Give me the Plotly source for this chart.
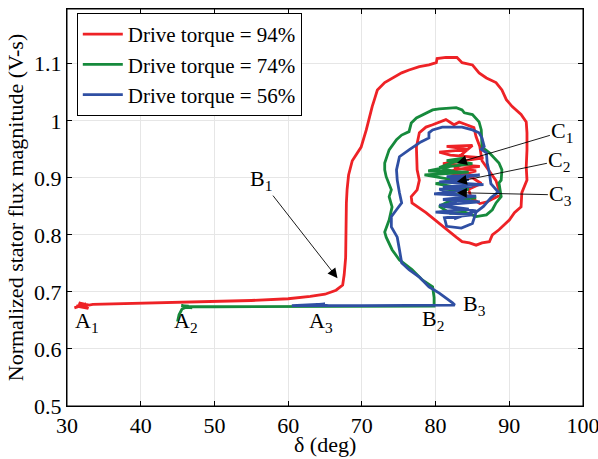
import plotly.graph_objects as go

# ---------------- data ----------------
series_names = ["Drive torque = 94%", "Drive torque = 74%", "Drive torque = 56%"]

red_x = [31.0, 32.6, 31.3, 32.9, 31.6, 33.0, 33.5, 40.0, 50.0, 55.0, 60.0, 63.0, 65.0, 66.5, 67.4,
         67.6, 67.8, 67.8, 67.9, 67.9, 68.0, 68.2, 68.7, 69.9, 70.6, 71.0, 71.4, 71.7, 72.1, 73.1,
         74.1, 75.4, 76.4, 77.8, 79.1, 80.1, 80.2, 81.4, 82.9, 83.2, 83.6, 85.0, 85.9, 86.9, 88.2,
         89.0, 89.6, 90.4, 91.6, 92.3, 92.4, 92.4, 92.3, 92.4, 91.7, 91.6, 90.7, 90.0, 88.6, 87.7,
         87.3, 86.3, 85.5, 84.6, 83.6, 82.8, 80.5, 78.7, 76.8, 76.7, 77.5, 77.8, 77.5, 77.5, 77.4,
         77.8, 78.7, 79.6, 80.5, 81.4, 82.5, 83.2, 84.2, 85.2, 85.5, 86.0, 86.3, 88.2, 88.8, 87.0,
         86.0, 84.8, 84.5, 86.2, 85.0, 81.5, 83.0, 86.0, 81.0, 84.0, 86.5, 82.0, 80.5, 84.5, 81.5,
         85.0, 83.0, 84.0, 82.5, 85.5, 83.5]
red_y = [0.672, 0.679, 0.675, 0.671, 0.681, 0.677, 0.678, 0.680, 0.683, 0.685, 0.688, 0.692, 0.696,
         0.703, 0.712, 0.730, 0.760, 0.796, 0.830, 0.856, 0.880, 0.905, 0.930, 0.954, 0.984, 1.007,
         1.025, 1.037, 1.054, 1.067, 1.075, 1.084, 1.089, 1.095, 1.098, 1.102, 1.109, 1.111, 1.111,
         1.107, 1.102, 1.098, 1.084, 1.075, 1.067, 1.054, 1.037, 1.025, 1.011, 0.998, 0.979, 0.949,
         0.919, 0.896, 0.874, 0.849, 0.839, 0.826, 0.809, 0.800, 0.788, 0.786, 0.782, 0.786, 0.788,
         0.796, 0.821, 0.839, 0.856, 0.867, 0.879, 0.896, 0.914, 0.926, 0.954, 0.979, 0.989, 0.993,
         0.998, 1.002, 0.993, 0.998, 0.993, 0.988, 0.972, 0.955, 0.930, 0.895, 0.870, 0.858, 0.855,
         0.865, 0.880, 0.890, 0.900, 0.910, 0.915, 0.920, 0.925, 0.930, 0.935, 0.940, 0.945, 0.950,
         0.955, 0.957, 0.935, 0.925, 0.918, 0.912, 0.905]

green_x = [45.0, 45.2, 45.6, 46.5, 45.5, 47.0, 46.0, 50.0, 60.0, 70.0, 79.8, 79.8, 79.6, 78.2, 76.8,
           75.1, 74.1, 73.3, 73.1, 73.7, 74.1, 73.7, 74.0, 73.3, 73.1, 73.1, 73.7, 74.7, 75.4, 76.4,
           76.7, 77.4, 78.7, 79.6, 80.5, 82.8, 83.6, 83.9, 85.0, 85.9, 86.2, 86.2, 86.3, 87.3, 88.6,
           89.0, 88.9, 88.6, 88.9, 88.2, 87.7, 86.9, 85.5, 84.0, 82.0, 80.5, 82.0, 85.5, 81.0, 84.5,
           80.0, 83.0, 78.5, 84.5, 79.0, 82.0, 85.0, 81.5, 84.0, 80.5, 83.5]
green_y = [0.648, 0.660, 0.670, 0.675, 0.676, 0.672, 0.674, 0.674, 0.674, 0.674, 0.675, 0.690, 0.709,
           0.721, 0.739, 0.756, 0.774, 0.796, 0.805, 0.826, 0.849, 0.867, 0.879, 0.902, 0.914, 0.926,
           0.949, 0.967, 0.975, 0.981, 0.996, 1.005, 1.014, 1.019, 1.021, 1.023, 1.019, 1.014, 1.011,
           0.998, 0.984, 0.967, 0.954, 0.944, 0.926, 0.914, 0.896, 0.891, 0.867, 0.856, 0.844, 0.835,
           0.832, 0.840, 0.838, 0.850, 0.860, 0.865, 0.875, 0.880, 0.890, 0.895, 0.905, 0.910, 0.912,
           0.920, 0.925, 0.930, 0.935, 0.918, 0.908]

blue_x = [63.0, 65.0, 63.5, 65.5, 64.0, 60.5, 70.0, 80.0, 82.6, 82.3, 80.5, 79.1, 77.8, 76.4, 75.4,
          75.1, 74.8, 74.0, 74.0, 74.7, 75.4, 75.1, 74.8, 74.7, 74.8, 75.1, 76.4, 77.5, 78.0, 79.1,
          79.1, 79.6, 80.9, 82.8, 83.6, 85.0, 85.9, 86.3, 86.6, 86.2, 86.9, 87.0, 87.3, 87.5, 88.5,
          87.5, 86.5, 85.5, 85.0, 83.5, 81.5, 81.2, 85.0, 80.0, 84.5, 80.5, 86.0, 81.0, 85.5, 79.8,
          84.0, 81.0, 86.5, 80.5, 84.5, 81.5, 86.0, 82.0, 85.0, 80.5, 84.0, 81.0, 85.5, 82.5]
blue_y = [0.677, 0.679, 0.676, 0.676, 0.678, 0.676, 0.676, 0.676, 0.677, 0.681, 0.698, 0.709, 0.726,
          0.739, 0.751, 0.774, 0.796, 0.814, 0.832, 0.844, 0.856, 0.874, 0.896, 0.914, 0.919, 0.937,
          0.949, 0.958, 0.963, 0.970, 0.979, 0.984, 0.989, 0.989, 0.989, 0.984, 0.979, 0.970, 0.955,
          0.950, 0.944, 0.926, 0.909, 0.890, 0.875, 0.865, 0.850, 0.840, 0.820, 0.812, 0.815, 0.830,
          0.835, 0.840, 0.845, 0.852, 0.858, 0.862, 0.868, 0.872, 0.878, 0.884, 0.888, 0.893, 0.897,
          0.902, 0.905, 0.898, 0.885, 0.880, 0.866, 0.850, 0.842, 0.828]

# labels: (text, x, y)
point_labels = [("A<sub>1</sub>", 32.7, 0.647), ("A<sub>2</sub>", 46.2, 0.647),
                ("A<sub>3</sub>", 64.5, 0.647), ("B<sub>2</sub>", 79.7, 0.651),
                ("B<sub>3</sub>", 85.3, 0.677)]
# arrow labels: (text, text_x, text_y, head_x, head_y)
arrow_labels = [("B<sub>1</sub>", 56.3, 0.896, 66.7, 0.724),
                ("C<sub>1</sub>", 97.2, 0.981, 82.9, 0.926),
                ("C<sub>2</sub>", 96.8, 0.930, 82.9, 0.893),
                ("C<sub>3</sub>", 97.0, 0.870, 82.9, 0.874)]

x_ticks = [30, 40, 50, 60, 70, 80, 90, 100]
y_ticks = [0.5, 0.6, 0.7, 0.8, 0.9, 1.0, 1.1]
y_tick_text = ["0.5", "0.6", "0.7", "0.8", "0.9", "1", "1.1"]
x_title = "δ (deg)"
y_title = "Normalized stator flux magnitude (V-s)"

colors = ["#EE2226", "#168A3C", "#2F4FA3"]
FONT = "Liberation Serif"
FS = 22

fig = go.Figure()
for name, xs, ys, c in zip(series_names, [red_x, green_x, blue_x], [red_y, green_y, blue_y], colors):
    fig.add_trace(go.Scatter(x=xs, y=ys, mode="lines", name=name,
                             line=dict(color=c, width=2.8)))

for t, x, y in point_labels:
    fig.add_annotation(x=x, y=y, text=t, showarrow=False, xref="x", yref="y",
                       font=dict(family=FONT, size=FS, color="black"))
for t, tx, ty, hx, hy in arrow_labels:
    fig.add_annotation(x=hx, y=hy, ax=tx, ay=ty, axref="x", ayref="y", xref="x", yref="y",
                       text=t, showarrow=True, arrowhead=2, arrowsize=2.2, arrowwidth=0.9,
                       arrowcolor="black", font=dict(family=FONT, size=FS, color="black"))

# x-axis title placed just under the tick labels
fig.add_annotation(x=0.5, y=-0.097, xref="paper", yref="paper", text=x_title, showarrow=False,
                   xanchor="center", yanchor="middle",
                   font=dict(family=FONT, size=FS, color="black"))

# axes box
fig.add_shape(type="rect", xref="paper", yref="paper", x0=0, x1=1, y0=0, y1=1,
              line=dict(color="black", width=1), fillcolor="rgba(0,0,0,0)", layer="above")

axis_common = dict(showline=True, linecolor="black", linewidth=1, mirror="ticks",
                   ticks="inside", ticklen=5, tickcolor="black", automargin=False,
                   ticklabeloverflow="allow",
                   showgrid=True, gridcolor="#e6e6e6", gridwidth=1, zeroline=False,
                   tickfont=dict(family=FONT, size=FS, color="black"))

fig.update_xaxes(range=[30, 100], tickvals=x_ticks, **axis_common)
fig.update_yaxes(range=[0.5, 1.196], tickvals=y_ticks, ticktext=y_tick_text,
                 title=dict(text=y_title, font=dict(family=FONT, size=FS, color="black"), standoff=4),
                 **axis_common)

fig.update_layout(
    width=598, height=459,
    margin=dict(l=67, r=15, t=9, b=53),
    plot_bgcolor="white", paper_bgcolor="white",
    font=dict(family=FONT, size=FS, color="black"),
    legend=dict(x=0.019, y=0.99, xanchor="left", yanchor="top",
                bgcolor="white", bordercolor="black", borderwidth=1,
                font=dict(family=FONT, size=21, color="black"),
                tracegroupgap=0, itemwidth=40),
    showlegend=True,
)

fig.write_html("out.html", config={"displayModeBar": False},
               post_script="document.body.style.margin='0px';document.body.style.overflow='hidden';")
